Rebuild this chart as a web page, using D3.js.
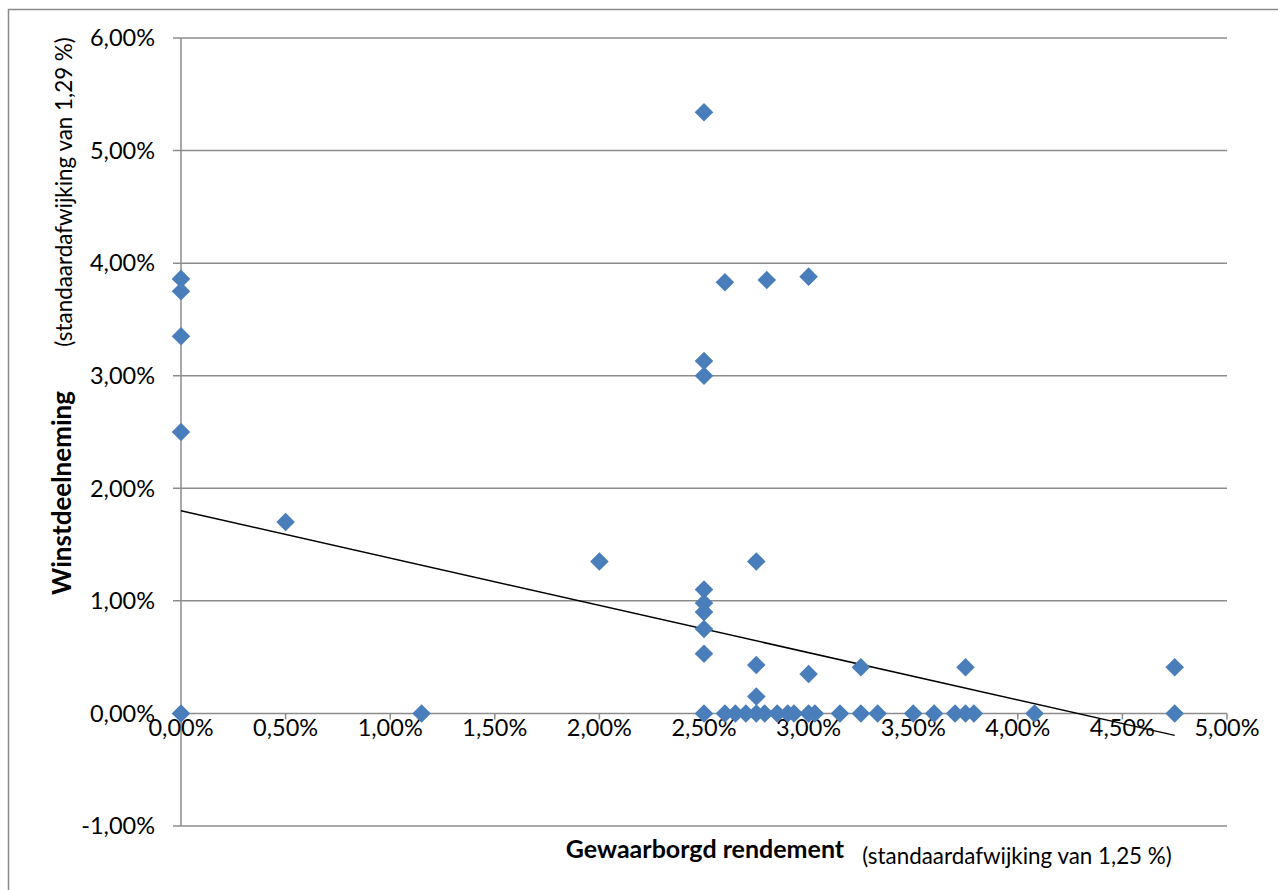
<!DOCTYPE html>
<html>
<head>
<meta charset="utf-8">
<script src="https://cdn.jsdelivr.net/npm/d3@7"></script>
<style>
  html, body { margin: 0; padding: 0; background: #fff; }
  svg { display: block; }
  text { font-family: Lato, "Open Sans", sans-serif; fill: #000; }
</style>
</head>
<body>
<svg id="chart" width="1278" height="890"></svg>
<script>
// Gewaarborgd rendement (x, %) tegenover winstdeelneming (y, %)
const gewaarborgd = [
  0, 0, 0, 0, 0,
  0.50, 1.15, 2.00,
  2.50, 2.50, 2.50, 2.50, 2.50, 2.50, 2.50, 2.50, 2.50,
  2.60, 2.60, 2.65, 2.70,
  2.75, 2.75, 2.75, 2.75, 2.79, 2.80,
  2.85, 2.90, 2.93,
  3.00, 3.00, 3.00, 3.03, 3.15,
  3.25, 3.25, 3.33, 3.50, 3.60, 3.70,
  3.75, 3.75, 3.79, 4.08, 4.75, 4.75
];
const winstdeelneming = [
  0, 2.50, 3.35, 3.75, 3.86,
  1.70, 0, 1.35,
  0, 0.53, 0.75, 0.90, 0.98, 1.10, 3.00, 3.13, 5.34,
  0, 3.83, 0, 0,
  0, 0.15, 0.43, 1.35, 0, 3.85,
  0, 0, 0,
  0, 0.35, 3.88, 0, 0,
  0, 0.41, 0, 0, 0, 0,
  0, 0.41, 0, 0, 0, 0.41
];
// Lineaire trendlijn: winst = snijpunt + helling * rendement
const trendSnijpunt = 1.80;
const trendHelling = -0.42;
const trendBereik = [0, 4.75];

const xTicks = [0, 0.5, 1, 1.5, 2, 2.5, 3, 3.5, 4, 4.5, 5];
const yTicks = [-1, 0, 1, 2, 3, 4, 5, 6];

const fmt = v => v.toFixed(2).replace(".", ",") + "%";

const svg = d3.select("#chart");
const plotLeft = 181, plotRight = 1227, plotTop = 38, plotBottom = 826;

const x = d3.scaleLinear().domain([0, 5]).range([plotLeft, plotRight]);
const y = d3.scaleLinear().domain([-1, 6]).range([plotBottom, plotTop]);

// Outer chart frame
svg.append("rect")
  .attr("x", 8.5).attr("y", 9.5)
  .attr("width", 1300).attr("height", 900)
  .attr("fill", "none").attr("stroke", "#8a8a8a").attr("stroke-width", 1.5);

const gridColor = "#8c8c8c";

// Horizontal gridlines
svg.append("g").selectAll("line").data(yTicks).join("line")
  .attr("x1", plotLeft - 8).attr("x2", plotRight)
  .attr("y1", d => y(d)).attr("y2", d => y(d))
  .attr("stroke", gridColor).attr("stroke-width", 1.5);

// Vertical axis line
svg.append("line")
  .attr("x1", x(0)).attr("x2", x(0))
  .attr("y1", plotTop).attr("y2", plotBottom)
  .attr("stroke", gridColor).attr("stroke-width", 1.5);

// Horizontal axis ticks at 0
svg.append("g").selectAll("line").data(xTicks).join("line")
  .attr("x1", d => x(d)).attr("x2", d => x(d))
  .attr("y1", y(0)).attr("y2", y(0) + 6)
  .attr("stroke", gridColor).attr("stroke-width", 1.5);

// Y tick labels
svg.append("g").selectAll("text").data(yTicks).join("text")
  .attr("x", plotLeft - 26).attr("y", d => y(d))
  .attr("dy", "0.35em")
  .attr("text-anchor", "end")
  .attr("font-size", 23.5)
  .text(fmt);

// X tick labels
svg.append("g").selectAll("text").data(xTicks).join("text")
  .attr("x", d => x(d)).attr("y", y(0) + 14)
  .attr("dy", "0.35em")
  .attr("text-anchor", "middle")
  .attr("font-size", 23.5)
  .text(fmt);

// Trendline
svg.append("line")
  .attr("x1", x(trendBereik[0])).attr("y1", y(trendSnijpunt + trendHelling * trendBereik[0]))
  .attr("x2", x(trendBereik[1])).attr("y2", y(trendSnijpunt + trendHelling * trendBereik[1]))
  .attr("stroke", "#000").attr("stroke-width", 1.5);

// Diamond markers
const punten = gewaarborgd.map((g, i) => ({ g, w: winstdeelneming[i] }));
const diamond = d3.symbol().type(d3.symbolDiamond2).size(220);
svg.append("g").selectAll("path").data(punten).join("path")
  .attr("transform", d => `translate(${x(d.g)},${y(d.w)})`)
  .attr("d", diamond)
  .attr("fill", "#4a7ebb");

// Axis titles
svg.append("text")
  .attr("transform", "translate(71,493) rotate(-90)")
  .attr("text-anchor", "middle")
  .attr("font-size", 26).attr("font-weight", "bold")
  .text("Winstdeelneming");
svg.append("text")
  .attr("transform", "translate(72,192) rotate(-90)")
  .attr("text-anchor", "middle")
  .attr("font-size", 22.4)
  .text("(standaardafwijking van 1,29 %)");

svg.append("text")
  .attr("x", 705).attr("y", 858)
  .attr("text-anchor", "middle")
  .attr("font-size", 25).attr("font-weight", "bold")
  .text("Gewaarborgd rendement");
svg.append("text")
  .attr("x", 1017).attr("y", 864)
  .attr("text-anchor", "middle")
  .attr("font-size", 22.4)
  .text("(standaardafwijking van 1,25 %)");
</script>
</body>
</html>
